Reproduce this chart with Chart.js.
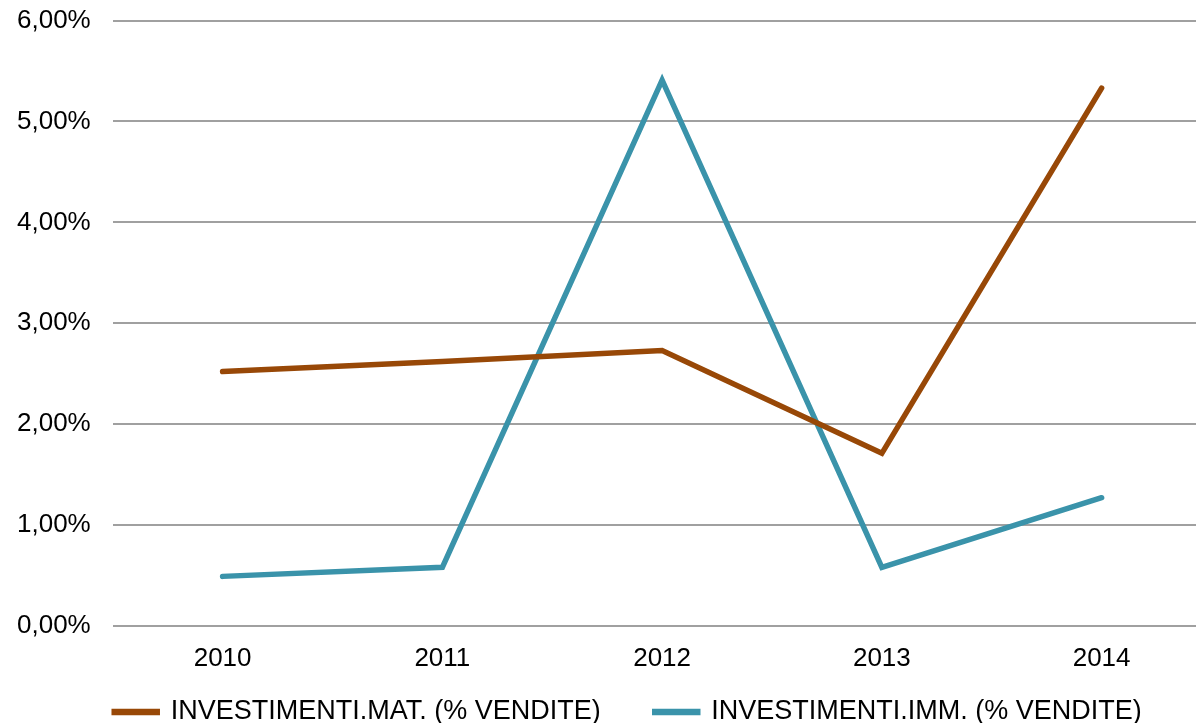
<!DOCTYPE html>
<html>
<head>
<meta charset="utf-8">
<script src="https://cdn.jsdelivr.net/npm/chart.js@4/dist/chart.umd.min.js"></script>
<style>
  html, body { margin: 0; padding: 0; overflow: hidden; background: #ffffff; }
  #wrap { position: absolute; left: -5.5px; top: -16.6px; width: 1256px; height: 791px; }
</style>
</head>
<body>
<div id="wrap"><canvas id="c" width="1256" height="791"></canvas></div>
<script>
const categories = ['2010', '2011', '2012', '2013', '2014'];
const investMat = [2.52, 2.62, 2.73, 1.71, 5.33];
const investImm = [0.49, 0.58, 5.41, 0.58, 1.27];
const seriesNames = ['INVESTIMENTI.MAT. (% VENDITE)', 'INVESTIMENTI.IMM. (% VENDITE)'];
const yTickLabels = ['0,00%', '1,00%', '2,00%', '3,00%', '4,00%', '5,00%', '6,00%'];

const FONT = 'Liberation Sans, Arial, sans-serif';

// moves the legend box to sit where the reference shows it
const legendShift = {
  id: 'legendShift',
  afterLayout(chart) {
    const lg = chart.legend;
    if (!lg) return;
    const dy = -38.5, dx = 24.75;
    lg.top += dy; lg.bottom += dy;
    lg.left += dx; lg.right += dx;
  }
};

new Chart(document.getElementById('c'), {
  type: 'line',
  data: {
    labels: categories,
    datasets: [
      {
        label: seriesNames[0],
        data: investMat,
        borderColor: '#984807',
        backgroundColor: '#984807',
        borderWidth: 5.5,
        borderCapStyle: 'round',
        pointRadius: 0,
        pointHoverRadius: 0,
        tension: 0,
        fill: false
      },
      {
        label: seriesNames[1],
        data: investImm,
        borderColor: '#3a93aa',
        backgroundColor: '#3a93aa',
        borderWidth: 5.5,
        borderCapStyle: 'round',
        pointRadius: 0,
        pointHoverRadius: 0,
        tension: 0,
        fill: false
      }
    ]
  },
  plugins: [legendShift],
  options: {
    responsive: false,
    devicePixelRatio: 1,
    animation: false,
    layout: { padding: { left: 0, right: 39.5, top: 5, bottom: 0 } },
    plugins: {
      tooltip: { enabled: false },
      legend: {
        position: 'bottom',
        labels: {
          font: { family: FONT, size: 27 },
          color: '#000000',
          boxWidth: 43,
          boxHeight: 1,
          padding: 54
        }
      }
    },
    scales: {
      x: {
        offset: true,
        grid: { display: false },
        border: { display: false },
        ticks: {
          font: { family: FONT, size: 26 },
          color: '#000000',
          padding: 9,
          maxRotation: 0
        }
      },
      y: {
        min: 0,
        max: 6,
        grid: { color: '#a0a0a0', lineWidth: 2, drawTicks: false },
        border: { display: false },
        ticks: {
          stepSize: 1,
          font: { family: FONT, size: 26 },
          color: '#000000',
          padding: 22,
          callback: (v, i) => yTickLabels[i]
        }
      }
    }
  }
});
</script>
</body>
</html>
